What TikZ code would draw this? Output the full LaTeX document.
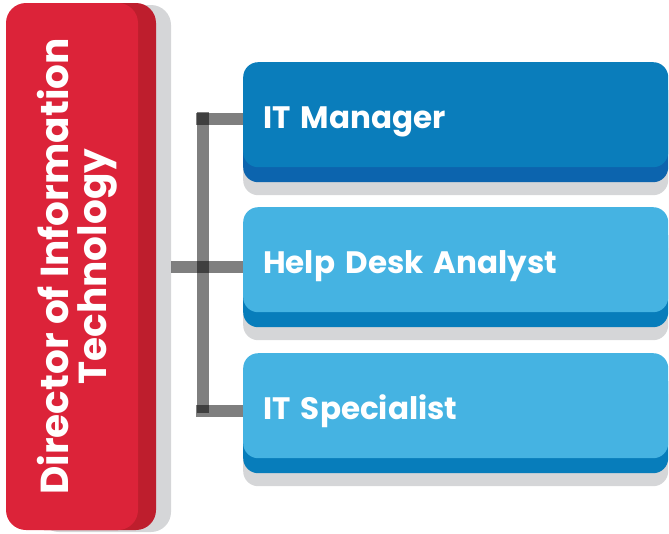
\documentclass[tikz,border=0pt]{standalone}
\usepackage{fontspec}
\setmainfont{Poppins}
\usetikzlibrary{shadows}

\definecolor{dirred}{RGB}{220,35,57}
\definecolor{dirreddark}{RGB}{190,30,45}
\definecolor{mgrblue}{RGB}{10,125,187}
\definecolor{mgrbluedark}{RGB}{12,100,174}
\definecolor{staffblue}{RGB}{69,179,226}
\definecolor{staffbluedark}{RGB}{7,125,187}
\definecolor{shadowgray}{RGB}{213,214,216}

\tikzset{
  dirbox/.style={rounded corners=20pt, fill=dirred, minimum width=132pt, minimum height=527pt,
    general shadow={fill=shadowgray, shadow xshift=33pt, shadow yshift=-2pt},
    general shadow={fill=dirreddark, shadow xshift=18pt}},
  dirtext/.style={text=white, align=center, font=\bfseries\fontsize{39}{38}\selectfont},
  jobbox/.style={rounded corners=15pt, anchor=north west, minimum height=105pt,
    text width=385pt, inner xsep=20pt, align=left, text=white,
    text height=27pt, text depth=0pt,
    font=\bfseries\fontsize{31}{36}\selectfont,
    general shadow={fill=shadowgray, shadow yshift=-28pt},
    general shadow={fill=#1, shadow yshift=-15pt}},
  bar/.style={line width=12pt, black, opacity=0.5}
}

\begin{document}
\begin{tikzpicture}[x=1pt,y=-1pt]
  \useasboundingbox (0,0) rectangle (669,533);

  % director
  \node[dirbox] (dir) at (72,266.5) {};
  \node[dirtext, rotate=90] (dirlabel) at ([xshift=5pt]dir.center) {Director of Information\\Technology};

  % staff
  \node[jobbox=mgrbluedark, fill=mgrblue] (mgr) at (243,62) {IT Manager};
  \node[jobbox=staffbluedark, fill=staffblue] (desk) at (243,207) {Help Desk Analyst};
  \node[jobbox=staffbluedark, fill=staffblue] (spec) at (243,353) {IT Specialist};

  % connectors
  \coordinate (trunktop) at (202.5,112);
  \coordinate (trunkbot) at (202.5,413);
  \draw[bar] (trunktop) -- (trunkbot);
  \draw[bar] ([yshift=-4pt]mgr.west) -- ++(-47,0);
  \draw[bar] ([xshift=33pt]dir.east) -- (desk.west |- dir.east);
  \draw[bar] ([yshift=-5pt]spec.west) -- ++(-47,0);
\end{tikzpicture}
\end{document}
